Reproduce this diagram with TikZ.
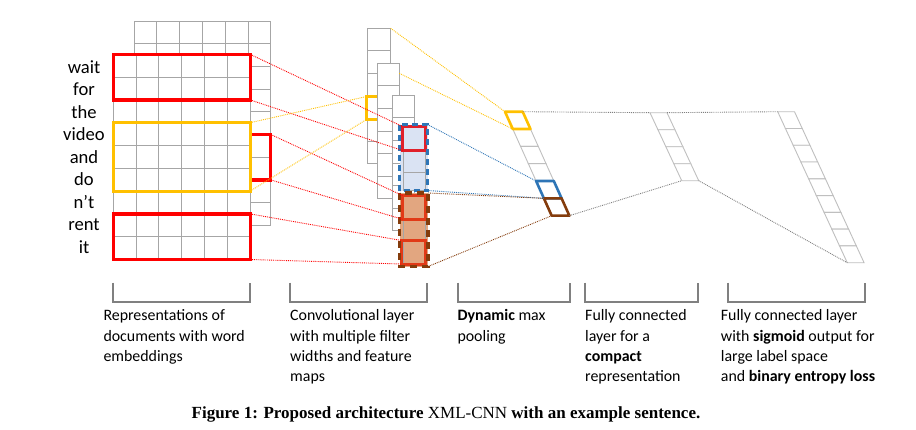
\documentclass[tikz,border=0pt]{standalone}
\usepackage{fontspec}
\setmainfont{Carlito}
\newfontfamily\capfont{Liberation Serif}

\definecolor{embred}{HTML}{FF0000}
\definecolor{embyellow}{HTML}{FFC000}
\definecolor{convred}{HTML}{E0202A}
\definecolor{convorange}{HTML}{E13A17}
\definecolor{mapblue}{HTML}{2E75B6}
\definecolor{mapbrown}{HTML}{843C0C}
\definecolor{bluefill}{HTML}{DAE3F3}
\definecolor{orangefill}{HTML}{E2A680}
\definecolor{gridgray}{HTML}{A6A6A6}
\definecolor{stripgray}{HTML}{BFBFBF}
\definecolor{linkgray}{HTML}{808080}

\begin{document}
\begin{tikzpicture}[x=1pt,y=-1pt,
    gridline/.style={draw=gridgray,line width=0.9pt},
    cell/.style={draw=gridgray,line width=0.9pt,fill=white},
    stripcell/.style={draw=stripgray,line width=0.9pt,fill=white},
    hot/.style={line width=3.2pt},
    link/.style={densely dotted,line width=0.9pt},
    brace/.style={draw=black!50,line width=1.8pt},
    word/.style={font=\fontsize{18.6}{22}\selectfont,anchor=base,inner sep=0pt},
    desc/.style={font=\fontsize{15.9}{20.3}\selectfont,anchor=base west,align=left,inner sep=0pt}]

  \useasboundingbox (0,0) rectangle (916,429);

  % the sentence
  \foreach[count=\i,evaluate={73.3+(\i-1)*22.5} as \y] \w in {wait,for,the,video,and,do,n’t,rent,it} {
    \node[word] (w\i) at (84,\y) {\w};
  }

  % word embeddings, back copy
  \begin{scope}[shift={(134,21)}]
    \fill[white] (0,0) rectangle (136.8,204.3);
    \foreach \i in {0,...,6} \draw[gridline] (\i*22.8,0) -- (\i*22.8,204.3);
    \foreach \j in {0,...,9} \draw[gridline] (0,\j*22.7) -- (136.8,\j*22.7);
    \draw[hot,embred] (0,113.5) rectangle (136.8,158.9);
    \coordinate (red2-ne) at (136.8,113.5);
    \coordinate (red2-se) at (136.8,158.9);
  \end{scope}

  % word embeddings, front copy
  \begin{scope}[shift={(113.3,54.3)}]
    \fill[white] (0,0) rectangle (136.8,205.2);
    \foreach \i in {0,...,6} \draw[gridline] (\i*22.8,0) -- (\i*22.8,205.2);
    \foreach \j in {0,...,9} \draw[gridline] (0,\j*22.8) -- (136.8,\j*22.8);
    \draw[hot,embred] (0,0) rectangle (136.8,45.6);
    \draw[hot,embyellow] (0,68.4) rectangle (136.8,136.8);
    \draw[hot,embred] (0,159.6) rectangle (136.8,205.2);
    \coordinate (red1-ne) at (136.8,0);
    \coordinate (red1-se) at (136.8,45.6);
    \coordinate (yel-ne) at (136.8,68.4);
    \coordinate (yel-se) at (136.8,136.8);
    \coordinate (red3-ne) at (136.8,159.6);
    \coordinate (red3-se) at (136.8,205.2);
  \end{scope}

  % convolution feature maps
  \foreach \x/\y/\w in {367.3/28.3/23.4,377.3/63.3/22,392.3/95.3/22} {
    \foreach \k in {0,...,5}
      \draw[cell] (\x,\y+\k*22.6) rectangle ++(\w,22.6);
  }
  \draw[hot,embyellow,line width=3pt] (377.3,96.5) -- (366.5,96.5) -- (366.5,119.5) -- (377.3,119.5);
  \coordinate (c1-ne) at (390.7,28.3);
  \coordinate (c2-e) at (399.3,73.3);
  \coordinate (ybr-nw) at (366.5,96.5);
  \coordinate (ybr-sw) at (366.5,119.5);

  % max-pooled windows
  \fill[bluefill] (399.5,124.5) rectangle (427.5,190.5);
  \draw[gridline] (403,126.3) rectangle (425.5,190.5);
  \draw[gridline] (403,150.2) -- (425.5,150.2) (403,172.5) -- (425.5,172.5);
  \draw[hot,convred,line width=3pt] (402.5,126.5) rectangle (425.8,150.5);
  \draw[mapblue,line width=3pt,dash pattern=on 6pt off 4pt] (399.5,124.5) rectangle (427.5,190.5);

  \fill[orangefill] (399.5,193) rectangle (428,266.5);
  \draw[gridline] (403,195.5) rectangle (425.5,264);
  \draw[gridline] (403,219.3) -- (425.5,219.3) (403,240.5) -- (425.5,240.5);
  \draw[hot,convorange,line width=3pt] (402.5,195.5) rectangle (425.8,219.3);
  \draw[hot,convorange,line width=3pt] (401.5,240.5) rectangle (425.8,264);
  \draw[mapbrown,line width=3.3pt,dash pattern=on 7pt off 5pt] (399.5,193) rectangle (428,266.5);

  \coordinate (cr1-nw) at (402.5,126.5);
  \coordinate (cr1-sw) at (402.5,150.5);
  \coordinate (cr2-nw) at (402.5,195.5);
  \coordinate (cr2-sw) at (402.5,219.3);
  \coordinate (cr3-nw) at (401.5,240.5);
  \coordinate (cr3-sw) at (401.5,264);
  \coordinate (blue-ne) at (427.5,124.5);
  \coordinate (blue-se) at (427.5,190.5);
  \coordinate (brown-ne) at (428,193);
  \coordinate (brown-se) at (428,266.5);

  % dynamic max pooling
  \begin{scope}[shift={(505,111.7)}]
    \foreach \k in {0,...,5}
      \draw[stripcell] (\k*7.78,\k*17.33) -- ++(17.7,0) -- ++(7.78,17.33) -- ++(-17.7,0) -- cycle;
    \draw[embyellow,line width=2.6pt,line join=round] (0,0) -- ++(17.7,0) -- ++(7.78,17.33) -- ++(-17.7,0) -- cycle;
    \draw[mapblue,line width=2.6pt,line join=round] (4*7.78,4*17.33) -- ++(17.7,0) -- ++(7.78,17.33) -- ++(-17.7,0) -- cycle;
    \draw[mapbrown,line width=2.6pt,line join=round] (5*7.78,5*17.33) -- ++(17.7,0) -- ++(7.78,17.33) -- ++(-17.7,0) -- cycle;
    \coordinate (p-nw) at (0,0);
    \coordinate (p-ne) at (17.7,0);
    \coordinate (py-sw) at (7.78,17.33);
    \coordinate (pb-nw) at (4*7.78,4*17.33);
    \coordinate (pb-sw) at (5*7.78,5*17.33);
    \coordinate (p-sw) at (6*7.78,6*17.33);
    \coordinate (p-se) at (6*7.78+17.7,6*17.33);
  \end{scope}

  % compact fully connected layer
  \begin{scope}[shift={(650,112.7)}]
    \foreach \k in {0,...,3}
      \draw[stripcell] (\k*7.93,\k*17) -- ++(17,0) -- ++(7.93,17) -- ++(-17,0) -- cycle;
    \coordinate (f1-nw) at (0,0);
    \coordinate (f1-ne) at (17,0);
    \coordinate (f1-sw) at (4*7.93,4*17);
    \coordinate (f1-se) at (4*7.93+17,4*17);
  \end{scope}

  % output layer
  \begin{scope}[shift={(777.7,111.7)}]
    \foreach \k in {0,...,8}
      \draw[stripcell] (\k*7.73,\k*16.78) -- ++(16.8,0) -- ++(7.73,16.78) -- ++(-16.8,0) -- cycle;
    \coordinate (f2-nw) at (0,0);
    \coordinate (f2-sw) at (9*7.73,9*16.78);
  \end{scope}

  % connections
  \draw[link,embred] (red1-ne) -- (cr1-nw);
  \draw[link,embred] (red1-se) -- (cr1-sw);
  \draw[link,embred] (red2-ne) -- (cr2-nw);
  \draw[link,embred] (red2-se) -- (cr2-sw);
  \draw[link,embred] (red3-ne) -- (cr3-nw);
  \draw[link,embred] (red3-se) -- (cr3-sw);
  \draw[link,embyellow] (yel-ne) -- (ybr-nw);
  \draw[link,embyellow] (yel-se) -- (ybr-sw);
  \draw[link,embyellow] (c1-ne) -- (p-nw);
  \draw[link,embyellow] (c2-e) -- (py-sw);
  \draw[link,mapblue] (blue-ne) -- (pb-nw);
  \draw[link,mapblue] (blue-se) -- (pb-sw);
  \draw[link,mapbrown] (brown-ne) -- (pb-sw);
  \draw[link,mapbrown] (brown-se) -- (p-sw);
  \draw[link,linkgray] (p-ne) -- (f1-nw);
  \draw[link,linkgray] (p-se) -- (f1-sw);
  \draw[link,linkgray] (f1-ne) -- (f2-nw);
  \draw[link,linkgray] (f1-se) -- (f2-sw);

  % stage descriptions (anchored at the baseline of their last line)
  \foreach \a/\b in {112.7/250,290/426.7,458/570,585/698.3,728.3/865}
    \draw[brace] (\a,282.7) |- (\b,302) -- (\b,282.7);

  \node[desc] (d-emb) at (103.3,361.3) {Representations of\\documents with word\\embeddings};
  \node[desc] (d-conv) at (290,381.6) {Convolutional layer\\with multiple filter\\widths and feature\\maps};
  \node[desc] (d-pool) at (457.3,341) {\textbf{Dynamic} max\\pooling};
  \node[desc] (d-fc) at (585,381.6) {Fully connected\\layer for a\\\textbf{compact}\\representation};
  \node[desc] (d-out) at (720.7,381.6) {Fully connected layer\\with \textbf{sigmoid} output for\\large label space\\and \textbf{binary entropy loss}};

  \node[font=\capfont\bfseries\fontsize{17}{20}\selectfont,anchor=base,inner sep=0pt] (caption) at (446,418.5)
    {Figure 1: Proposed architecture {\mdseries XML-CNN} with an example sentence.};
\end{tikzpicture}
\end{document}
